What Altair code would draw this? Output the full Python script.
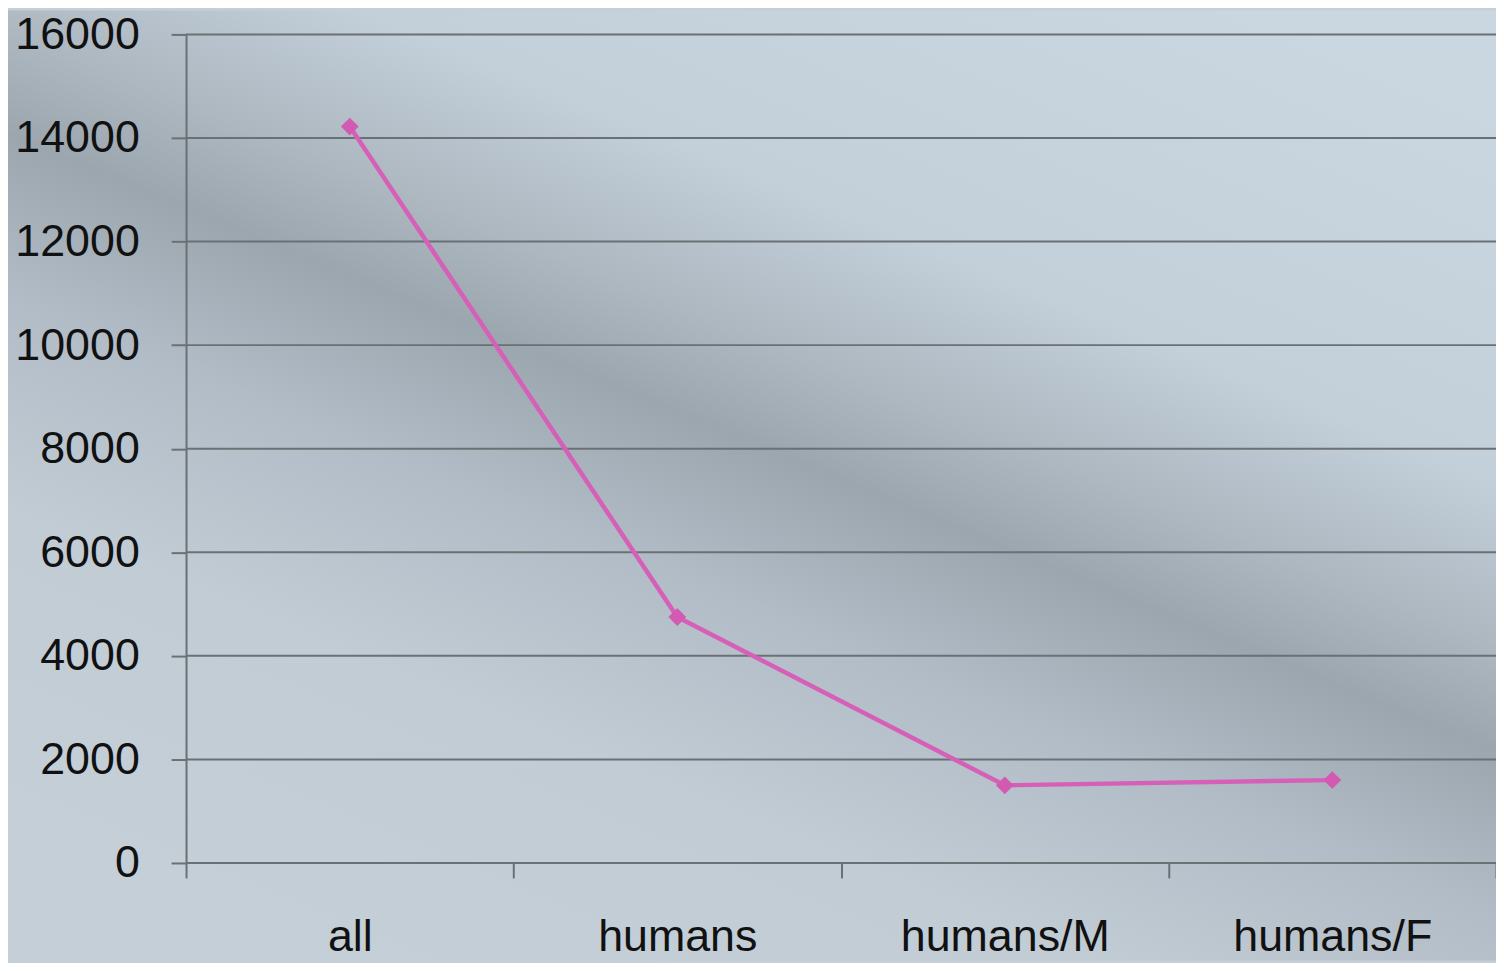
import altair as alt
import pandas as pd

categories = ["all", "humans", "humans/M", "humans/F"]
values = [14220, 4750, 1500, 1600]
y_ticks = [0, 2000, 4000, 6000, 8000, 10000, 12000, 14000, 16000]

df = pd.DataFrame({"cat": categories, "val": values})
grid_df = pd.DataFrame({"val": y_ticks})
bg_df = pd.DataFrame({"k": [0]})

W, H = 1317, 833
TOP, BOTTOM = 24, 98
GRID = "#6b7075"

grad = alt.Gradient(
    gradient="linear",
    x1=0.85, y1=0.0, x2=0.2, y2=1.0,
    stops=[
        alt.GradientStop(color="#cbd7e0", offset=0.0),
        alt.GradientStop(color="#c3cfd9", offset=0.28),
        alt.GradientStop(color="#adb8c1", offset=0.4),
        alt.GradientStop(color="#9ba6af", offset=0.48),
        alt.GradientStop(color="#b1bcc6", offset=0.6),
        alt.GradientStop(color="#c1ccd5", offset=0.76),
        alt.GradientStop(color="#c5cfd8", offset=1.0),
    ],
)

bg = alt.Chart(bg_df).mark_rect(fill=grad, clip=False).encode(
    x=alt.value(-179), x2=alt.value(W), y=alt.value(-TOP), y2=alt.value(H + BOTTOM)
)

x_enc = alt.X(
    "cat:N",
    sort=categories,
    scale=alt.Scale(domain=categories, paddingInner=0, paddingOuter=0),
    axis=alt.Axis(
        title=None, labelAngle=0, tickBand="extent", ticks=True, tickSize=15,
        tickColor=GRID, tickWidth=2, domain=False, grid=False, zindex=1,
        labelFont="Liberation Sans", labelFontSize=45, labelColor="#111111",
        labelPadding=37, labelLimit=0,
    ),
)
y_scale = alt.Scale(domain=[0, 16000], nice=False)
y_enc = alt.Y(
    "val:Q",
    scale=y_scale,
    axis=alt.Axis(
        title=None, values=y_ticks, grid=False, format="d",
        ticks=True, tickSize=15, tickColor=GRID, tickWidth=2,
        domain=True, domainColor=GRID, domainWidth=2, zindex=1,
        labelFont="Liberation Sans", labelFontSize=45, labelColor="#111111",
        labelPadding=32, labelLimit=0,
    ),
)

grid = alt.Chart(grid_df).mark_rule(color=GRID, strokeWidth=2).encode(
    y=alt.Y("val:Q", scale=y_scale), x=alt.value(0), x2=alt.value(W)
)

line = alt.Chart(df).mark_line(color="#d660b8", strokeWidth=4.5).encode(x=x_enc, y=y_enc)
pts = alt.Chart(df).mark_point(
    shape="diamond", filled=True, size=320, color="#d35ab3", opacity=1
).encode(x=x_enc, y=y_enc)

chart = alt.layer(bg, grid, line, pts).properties(
    width=W, height=H,
    autosize=alt.AutoSizeParams(type="none"),
    padding={"left": 179, "top": TOP, "right": 0, "bottom": BOTTOM},
    background="#c4cfd8",
).configure_view(stroke=None)

chart.save("out.html", embed_options={"renderer": "svg", "actions": False})
